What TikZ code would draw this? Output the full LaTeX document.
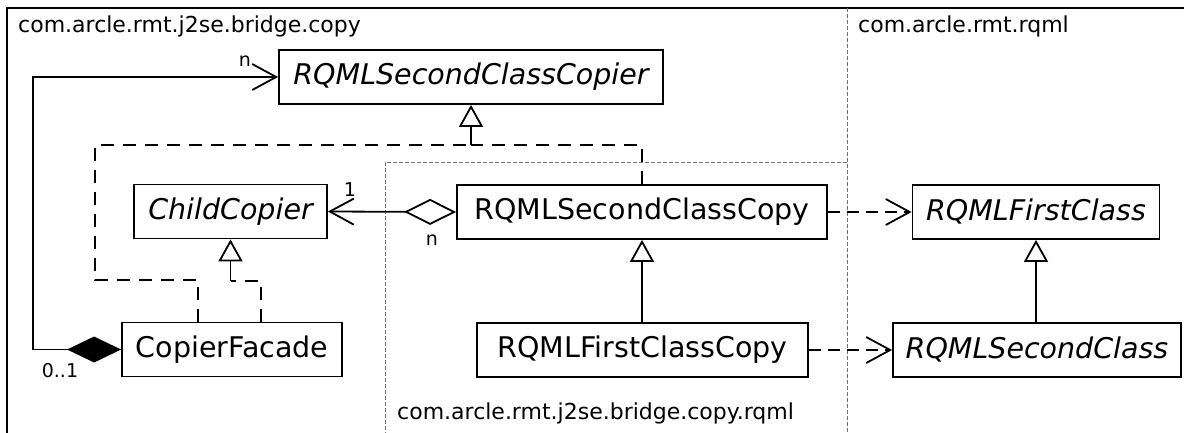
\documentclass[tikz,border=0pt]{standalone}
\usepackage{fontspec}
\setmainfont{DejaVu Sans}
\usetikzlibrary{arrows.meta}
\tikzset{
  cls/.style={draw, line width=1.8pt, minimum height=54pt, inner sep=0pt, font=\fontsize{28.5}{30}\selectfont},
  icls/.style={cls, font=\fontsize{28.5}{30}\selectfont\itshape},
  pkglabel/.style={anchor=base west, inner sep=0pt, font=\fontsize{22}{24}\selectfont},
  mult/.style={inner sep=0pt, font=\fontsize{19}{21}\selectfont},
  pkgline/.style={draw=black!55, line width=1pt, dash pattern=on 4pt off 2pt},
  conn/.style={line width=1.8pt},
  real/.style={conn, dash pattern=on 13pt off 9pt},
  dep/.style={conn, dash pattern=on 12pt off 7pt},
  barb/.tip={Straight Barb[length=24pt, width=26pt, line width=1.8pt]},
  gentip/.tip={Triangle[open, fill=white, length=22pt, width=24pt, line width=1.8pt]},
}
\begin{document}
\begin{tikzpicture}[x=1pt, y=-1pt]
\useasboundingbox (0,0) rectangle (1184,432);
\clip (0,0) rectangle (1184,432);
\fill[white] (0,0) rectangle (1184,432);
% packages
\draw[line width=1.8pt] (7,8) rectangle (1195,450);
\draw[pkgline] (847,8) -- (847,450);
\draw[pkgline] (847,162) -- (385,162) -- (385,450);
\node[pkglabel] (p1) at (18,32) {com.arcle.rmt.j2se.bridge.copy};
\node[pkglabel] (p2) at (858,32) {com.arcle.rmt.rqml};
\node[pkglabel] (p3) at (397,419) {com.arcle.rmt.j2se.bridge.copy.rqml};
% classes
\node[icls, minimum width=384pt] (copier) at (471,77) {RQMLSecondClassCopier};
\node[icls, minimum width=193pt] (child) at (230.5,211.5) {ChildCopier};
\node[cls, minimum width=220pt] (cf) at (232,349.5) {CopierFacade};
\node[cls, minimum width=370pt] (scc) at (642,212) {RQMLSecondClassCopy};
\node[cls, minimum width=331pt] (fcc) at (642.5,350) {RQMLFirstClassCopy};
\node[icls, minimum width=247pt] (fc) at (1036,212) {RQMLFirstClass};
\node[icls, minimum width=288pt] (sc) at (1037,350) {RQMLSecondClass};
% helper coordinates
\coordinate (L) at (33,0);
\coordinate (r1) at (471,145);
\coordinate (r2) at (95,280);
\coordinate (r3) at (198,280);
\coordinate (r4) at (261,281);
\coordinate (r5) at (230.5,281);
% composition
\draw[conn, {Diamond[length=54pt, width=26pt]}-barb] (cf.west) -- (L |- cf.west) -- (L |- copier.west) -- (copier.west);
\node[mult] (m1) at (245,61) {n};
\node[mult] (m2) at (60,371) {0..1};
% realizations
\draw[real] (scc.north) |- (r1);
\draw[conn, -gentip] (r1) -- (copier.south);
\draw[real] (r3 |- cf.north) -- (r3) -- (r2) -- (r2 |- r1) -- (r1);
\draw[real] (r4 |- cf.north) -- (r4) -- (r5);
\draw[conn, -gentip] (r5) -- (child.south);
% aggregation
\draw[conn, {Diamond[open, fill=white, length=52pt, width=26pt]}-barb] (scc.west) -- (child.east);
\node[mult] (m3) at (350,190) {1};
\node[mult] (m4) at (432,240) {n};
% generalizations
\draw[conn, -gentip] (fcc.north -| scc.south) -- (scc.south);
\draw[conn, -gentip] (fc.south |- sc.north) -- (fc.south);
% dependencies
\draw[dep, -barb] (scc.east) -- (fc.west);
\draw[dep, -barb] (fcc.east) -- (sc.west);
\end{tikzpicture}
\end{document}
